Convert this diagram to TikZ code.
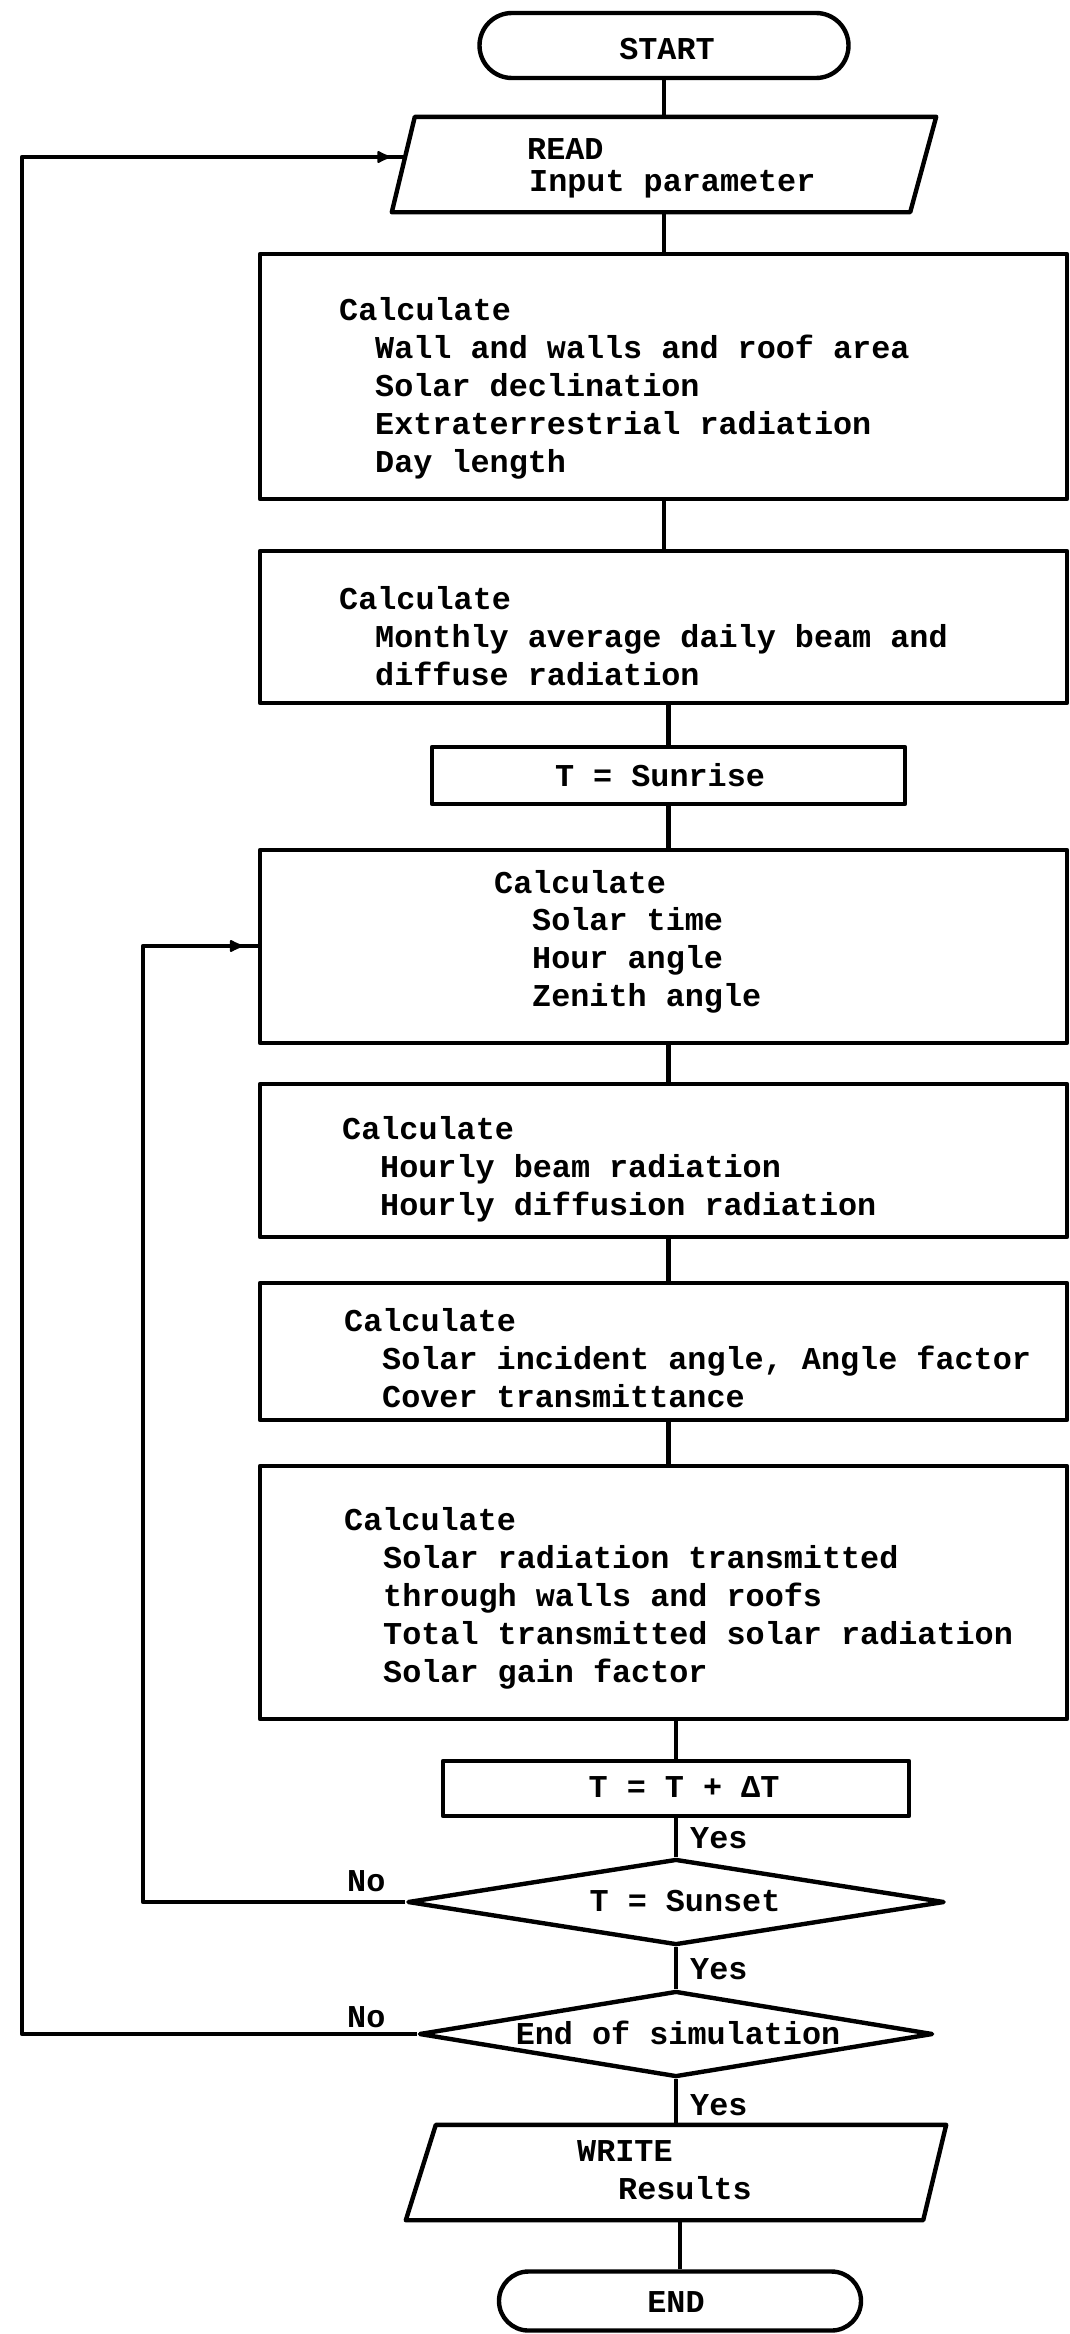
\documentclass[tikz,border=0pt]{standalone}
\usepackage{fontspec}
\newfontfamily\flowfont{Liberation Mono}
\usetikzlibrary{shapes.geometric,shapes.misc,arrows.meta,decorations.markings}
\newcommand\pxu{0.5pt}
\begin{document}
\begin{tikzpicture}[x=0.5pt,y=-0.5pt,line width=2.2pt,line join=round,
  sz/.style 2 args={minimum width=#1*\pxu, minimum height=#2*\pxu},
  box/.style={draw, rectangle, inner sep=0pt},
  term/.style={draw, rounded rectangle, inner sep=0pt},
  frame/.style={rectangle, inner sep=0pt},
  dec/.style={draw, diamond, inner sep=0.5pt},
  txt/.style={inner sep=0pt, font=\flowfont\bfseries\fontsize{15.9}{19}\selectfont},
  fb/.style={postaction=decorate, decoration={markings,
     mark=at position -#1 with {\arrow[line width=1.2pt]{Latex[round,length=8pt,width=7pt]}}}}]
\fill[white] (0,0) rectangle (1070,2334);
\useasboundingbox (0,0) rectangle (1070,2334);

% shapes
\node[term, sz={369}{65}] (start) at (664,45.5) {};
\node[frame, sz={540}{91}] (read) at (664,164.5) {};
\draw ([xshift=11.5pt]read.north west) -- (read.north east)
   -- ([xshift=-13pt]read.south east) -- (read.south west) -- cycle;
\node[box, sz={807}{245}] (b1) at (663.5,376.5) {};
\node[box, sz={807}{152}] (b2) at (663.5,627) {};
\node[box, sz={473}{57}] (sr) at (668.5,775.5) {};
\node[box, sz={807}{193}] (b3) at (663.5,946.5) {};
\node[box, sz={807}{153}] (b4) at (663.5,1160.5) {};
\node[box, sz={807}{137}] (b5) at (663.5,1351.5) {};
\node[box, sz={807}{253}] (b6) at (663.5,1592.5) {};
\node[box, sz={466}{55}] (tt) at (676,1788.5) {};
\node[dec, sz={537}{86}] (sunset) at (676,1902) {};
\node[dec, sz={514}{86}] (ends) at (676,2034) {};
\node[frame, sz={536}{91}] (write) at (676,2172.5) {};
\draw ([xshift=15pt]write.north west) -- (write.north east)
   -- ([xshift=-11.5pt]write.south east) -- (write.south west) -- cycle;
\node[term, sz={362}{59}] (endn) at (680,2301) {};

% texts
\node[txt, anchor=base] (tstart) at (667,59) {START};
\node[txt, anchor=base west] (tr1) at (525,159) {READ};
\node[txt, anchor=base west] (tr2) at (527,191) {Input parameter};

\node[txt, anchor=base west] (t1a) at (337,320) {Calculate};
\node[txt, anchor=base west] (t1b) at (373,358) {Wall and walls and roof area};
\node[txt, anchor=base west] (t1c) at (373,396) {Solar declination};
\node[txt, anchor=base west] (t1d) at (373,434) {Extraterrestrial radiation};
\node[txt, anchor=base west] (t1e) at (373,472) {Day length};

\node[txt, anchor=base west] (t2a) at (337,609) {Calculate};
\node[txt, anchor=base west] (t2b) at (373,647) {Monthly average daily beam and};
\node[txt, anchor=base west] (t2c) at (373,685) {diffuse radiation};

\node[txt, anchor=base] (tsr) at (660,786) {T = Sunrise};

\node[txt, anchor=base west] (t3a) at (492,893) {Calculate};
\node[txt, anchor=base west] (t3b) at (530,930) {Solar time};
\node[txt, anchor=base west] (t3c) at (530,968) {Hour angle};
\node[txt, anchor=base west] (t3d) at (530,1006) {Zenith angle};

\node[txt, anchor=base west] (t4a) at (340,1139) {Calculate};
\node[txt, anchor=base west] (t4b) at (378,1177) {Hourly beam radiation};
\node[txt, anchor=base west] (t4c) at (378,1215) {Hourly diffusion radiation};

\node[txt, anchor=base west] (t5a) at (342,1331) {Calculate};
\node[txt, anchor=base west] (t5b) at (380,1369) {Solar incident angle, Angle factor};
\node[txt, anchor=base west] (t5c) at (380,1407) {Cover transmittance};

\node[txt, anchor=base west] (t6a) at (342,1530) {Calculate};
\node[txt, anchor=base west] (t6b) at (381,1568) {Solar radiation transmitted};
\node[txt, anchor=base west] (t6c) at (381,1606) {through walls and roofs};
\node[txt, anchor=base west] (t6d) at (381,1644) {Total transmitted solar radiation};
\node[txt, anchor=base west] (t6e) at (381,1682) {Solar gain factor};

\node[txt, anchor=base] (ttt) at (684,1797) {T = T + ΔT};
\node[txt, anchor=base west] (y1) at (688,1848) {Yes};
\node[txt, anchor=base] (tss) at (685,1911) {T = Sunset};
\node[txt, anchor=base west] (y2) at (688,1979) {Yes};
\node[txt, anchor=base] (tes) at (678,2044) {End of simulation};
\node[txt, anchor=base west] (y3) at (688,2115) {Yes};
\node[txt, anchor=base west] (n1) at (345,1891) {No};
\node[txt, anchor=base west] (n2) at (345,2027) {No};
\node[txt, anchor=base west] (tw1) at (575,2161) {WRITE};
\node[txt, anchor=base west] (tw2) at (616,2199) {Results};
\node[txt, anchor=base] (tend) at (676,2312) {END};

% connectors
\draw (start.south) -- (start.south |- read.north);
\draw (read.south) -- (read.south |- b1.north);
\draw (b1.south -| read.south) -- (b2.north -| read.south);
\draw (sr.north) -- (sr.north |- b2.south);
\draw (sr.south) -- (sr.south |- b3.north);
\draw (b3.south -| sr.south) -- (b4.north -| sr.south);
\draw (b4.south -| sr.south) -- (b5.north -| sr.south);
\draw (b5.south -| sr.south) -- (b6.north -| sr.south);
\draw (tt.north) -- (tt.north |- b6.south);
\draw (tt.south) -- (sunset.north);
\draw (sunset.south) -- (ends.north);
\draw (ends.south) -- (write.north);
\draw (endn.north) -- (endn.north |- write.south);

% loops
\coordinate (o1) at (22,157);
\coordinate (i1) at (143,946);
\draw[fb=7.5pt] (ends.west) -| (o1) -- ([xshift=6.7pt,yshift=3.75pt]read.west);
\draw[fb=7.5pt] (sunset.west) -| (i1) -- (i1 -| b3.west);
\end{tikzpicture}
\end{document}
